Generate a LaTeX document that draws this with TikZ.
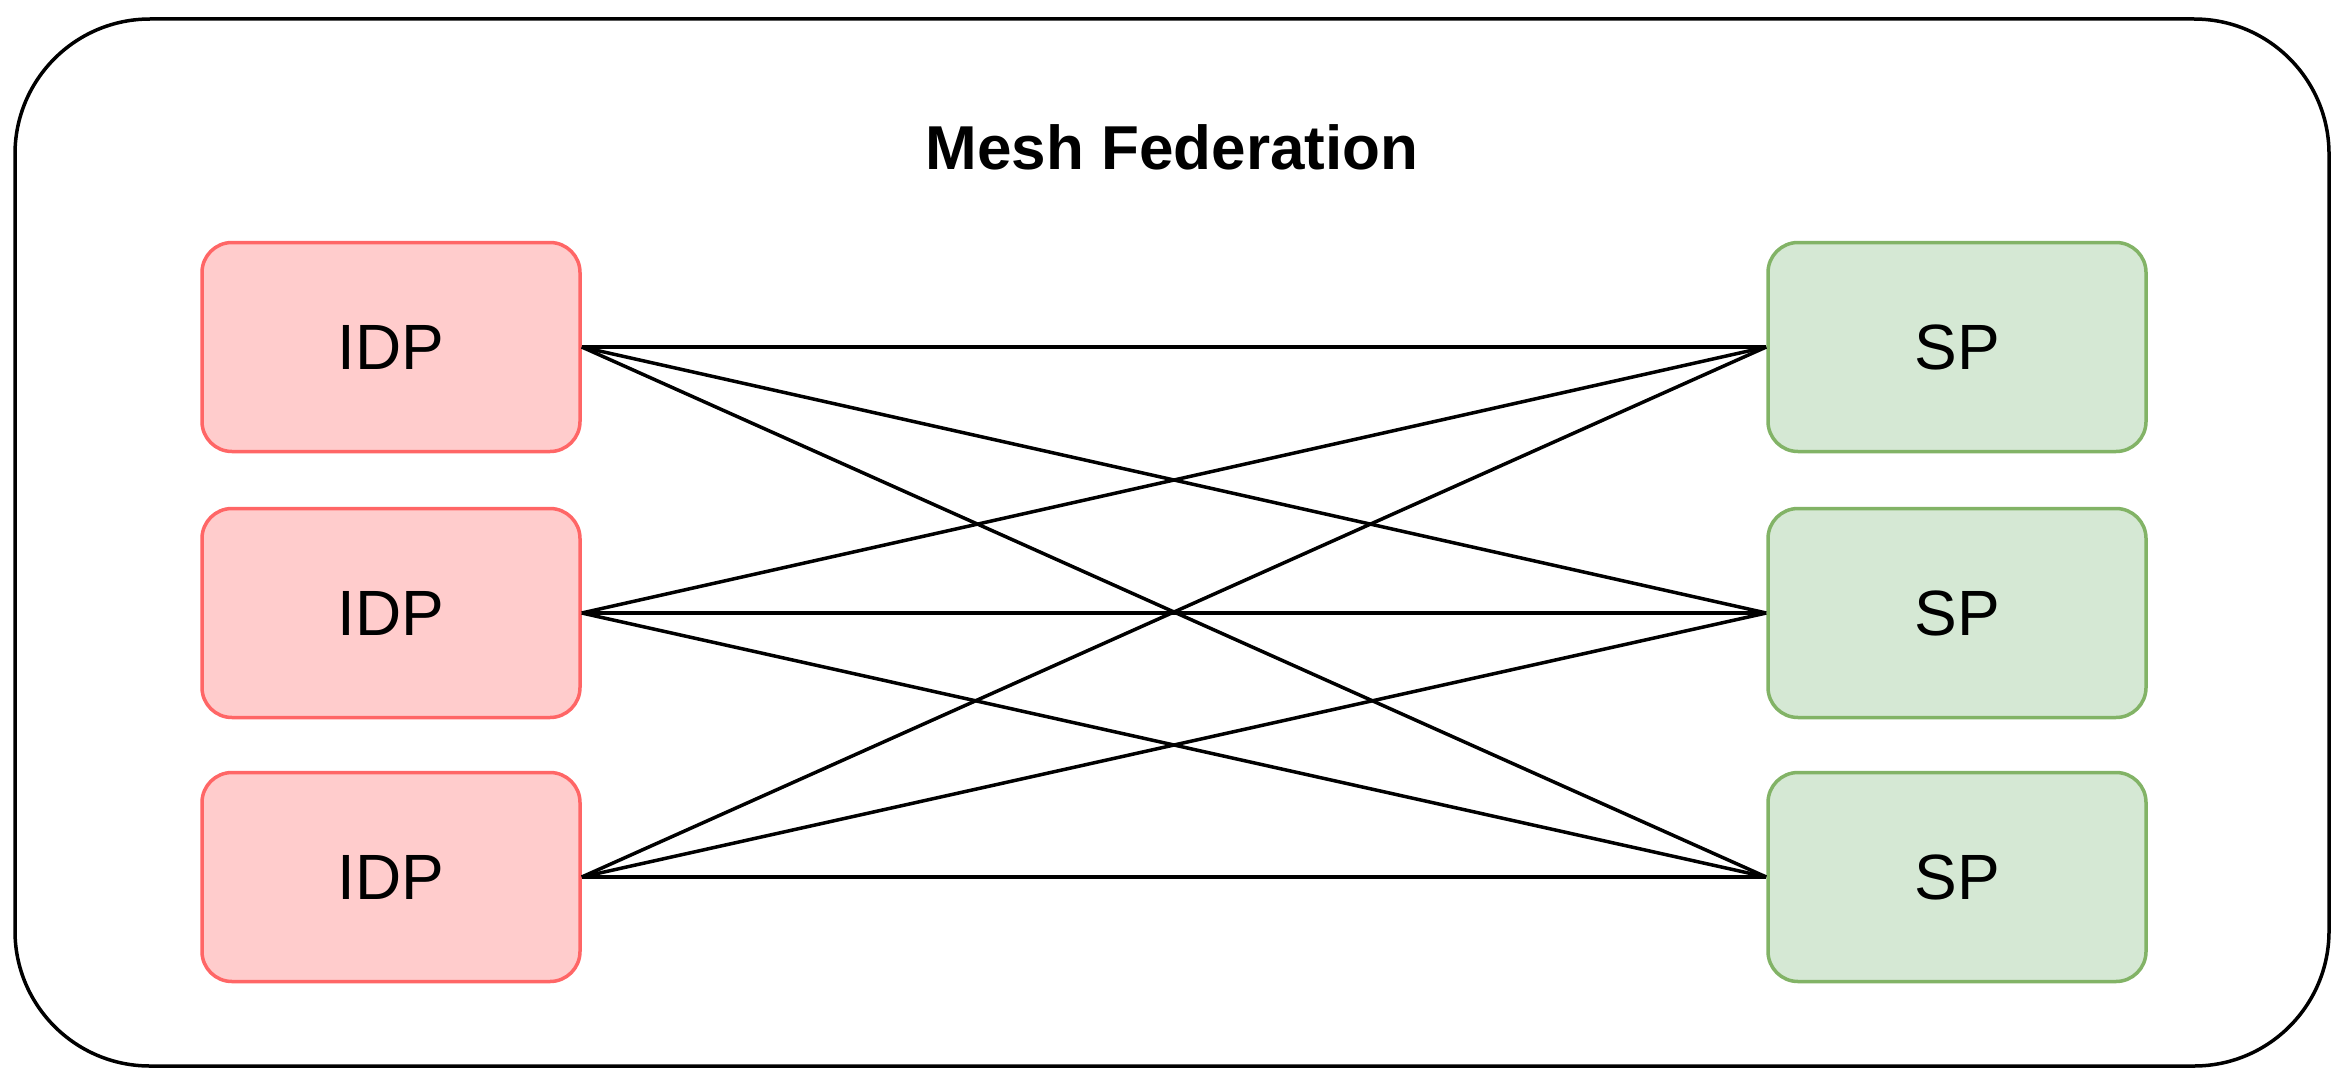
\documentclass[tikz,border=0pt]{standalone}
\usepackage{fontspec}
\setmainfont{Liberation Sans}
\begin{document}
\begin{tikzpicture}[x=1pt,y=-1pt,
  idp/.style={draw=red!60!white,fill=red!20!white,line width=3.5pt,rounded corners=30pt,minimum width=378pt,minimum height=209pt,font=\fontsize{64}{70}\selectfont},
  sp/.style={draw=green!45!black!45!white,fill=green!50!black!20!white,line width=3.5pt,rounded corners=30pt,minimum width=378pt,minimum height=209pt,font=\fontsize{64}{70}\selectfont},
  link/.style={line width=3.5pt,black}]
\useasboundingbox (0,0) rectangle (2342,1081);
\draw[line width=3.5pt,rounded corners=135pt] (15,19) rectangle (2329,1066);
\node (title) at (1172,147) {\fontsize{62}{70}\selectfont\bfseries Mesh Federation};
\node[idp] (i1) at (391,347) {IDP};
\node[idp] (i2) at (391,613) {IDP};
\node[idp] (i3) at (391,877) {IDP};
\node[sp,fill={rgb,255:red,213;green,232;blue,212},draw={rgb,255:red,130;green,179;blue,102}] (s1) at (1957,347) {SP};
\node[sp,fill={rgb,255:red,213;green,232;blue,212},draw={rgb,255:red,130;green,179;blue,102}] (s2) at (1957,613) {SP};
\node[sp,fill={rgb,255:red,213;green,232;blue,212},draw={rgb,255:red,130;green,179;blue,102}] (s3) at (1957,877) {SP};
\foreach \a in {1,2,3}{\foreach \b in {1,2,3}{\draw[link] (i\a.east) -- (s\b.west);}}
\end{tikzpicture}
\end{document}
